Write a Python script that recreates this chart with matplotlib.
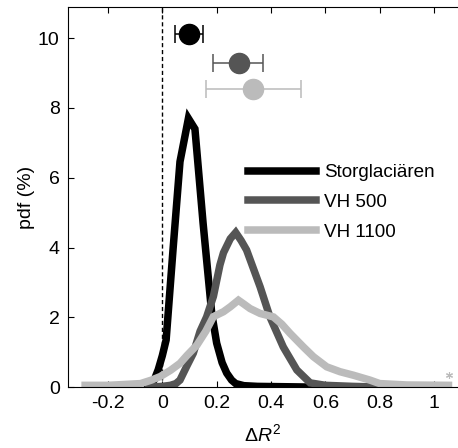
import matplotlib
matplotlib.use("Agg")
import matplotlib.pyplot as plt

plt.rcParams['font.family'] = ['Liberation Sans', 'DejaVu Sans']
plt.rcParams['mathtext.fontset'] = 'custom'
plt.rcParams['mathtext.rm'] = 'Liberation Sans'
plt.rcParams['mathtext.it'] = 'Liberation Sans:italic'

# Probability density curves of Delta R^2 (in %)
stor_x = [-0.05, -0.03, -0.015, 0.0, 0.014, 0.04, 0.065, 0.096, 0.12, 0.15,
          0.182, 0.2, 0.22, 0.237, 0.255, 0.27, 0.3, 0.35, 0.45, 0.55]
stor_y = [0.02, 0.2, 0.5, 0.9, 1.35, 4.0, 6.46, 7.70, 7.40, 4.7,
          2.1, 1.26, 0.7, 0.4, 0.2, 0.1, 0.04, 0.02, 0.01, 0.0]

vh500_x = [-0.05, 0.0, 0.03, 0.05, 0.065, 0.09, 0.114, 0.139, 0.163, 0.188,
           0.212, 0.225, 0.25, 0.27, 0.29, 0.31, 0.36, 0.396, 0.445, 0.495,
           0.544, 0.6, 0.7, 0.8]
vh500_y = [0.0, 0.02, 0.05, 0.1, 0.2, 0.6, 0.97, 1.6, 2.01, 2.6,
           3.5, 3.85, 4.25, 4.43, 4.2, 3.93, 2.87, 2.01, 1.15, 0.49,
           0.12, 0.05, 0.02, 0.0]

vh1100_x = [-0.284, -0.2, -0.15, -0.08, -0.04, -0.008, 0.03, 0.065, 0.09, 0.127,
            0.16, 0.188, 0.225, 0.25, 0.28, 0.3, 0.323, 0.36, 0.409, 0.44,
            0.47, 0.519, 0.556, 0.605, 0.654, 0.703, 0.764, 0.8, 0.9, 1.053]
vh1100_y = [0.05, 0.05, 0.07, 0.1, 0.2, 0.3, 0.48, 0.68, 0.9, 1.2,
            1.6, 2.02, 2.16, 2.3, 2.49, 2.38, 2.25, 2.11, 2.01, 1.8,
            1.54, 1.15, 0.87, 0.58, 0.44, 0.34, 0.2, 0.1, 0.06, 0.05]

labels = ['Storglaciären', 'VH 500', 'VH 1100']
colors = ['#000000', '#555555', '#bbbbbb']

# Means with error ranges, drawn above the curves
mean_x = [0.099, 0.281, 0.335]
mean_y = [10.11, 9.30, 8.54]
err_lo = [0.047, 0.188, 0.160]
err_hi = [0.149, 0.372, 0.510]

# Outlier marker for VH 1100
star_x = [1.055]
star_y = [0.34]

xticks = [-0.2, 0, 0.2, 0.4, 0.6, 0.8, 1]
xticklabels = ['-0.2', '0', '0.2', '0.4', '0.6', '0.8', '1']
yticks = [0, 2, 4, 6, 8, 10]

fig = plt.figure(figsize=(4.58, 4.48), dpi=100)
ax = fig.add_axes([0.1485, 0.136, 0.8515, 0.848])

ax.axvline(0, color='black', linestyle='--', linewidth=1.0, dashes=(3, 2), zorder=1)

curves = [(stor_x, stor_y), (vh500_x, vh500_y), (vh1100_x, vh1100_y)]
for (cx, cy), lab, col in zip(curves, labels, colors):
    ax.plot(cx, cy, color=col, linewidth=5.4, label=lab, solid_joinstyle='miter', zorder=2)

for mx, my, lo, hi, col in zip(mean_x, mean_y, err_lo, err_hi, colors):
    ax.errorbar([mx], [my], xerr=[[mx - lo], [hi - mx]], fmt='o', color=col,
                markersize=14.5, capsize=6.5, elinewidth=1.1, capthick=1.1, zorder=3)

ax.plot(star_x, star_y, linestyle='none', marker=(6, 2, 0), markersize=5,
        color='#bbbbbb', markeredgewidth=0.8)

ax.set_xlim(-0.347, 1.088)
ax.set_ylim(0, 10.89)
ax.set_xticks(xticks)
ax.set_xticklabels(xticklabels)
ax.set_yticks(yticks)
ax.tick_params(direction='in', top=True, right=False, labelsize=14, length=4, width=0.8, pad=6)
ax.spines['right'].set_visible(False)

ax.set_xlabel(r'$\Delta R^2$', fontsize=14, labelpad=8)
ax.set_ylabel('pdf (%)', fontsize=14, labelpad=2)

ax.legend(loc='upper left', bbox_to_anchor=(0.438, 0.612), frameon=False, fontsize=13.6,
          handlelength=3.6, handletextpad=0.4, labelspacing=0.66, borderpad=0)

fig.savefig('out.png', dpi=100)
